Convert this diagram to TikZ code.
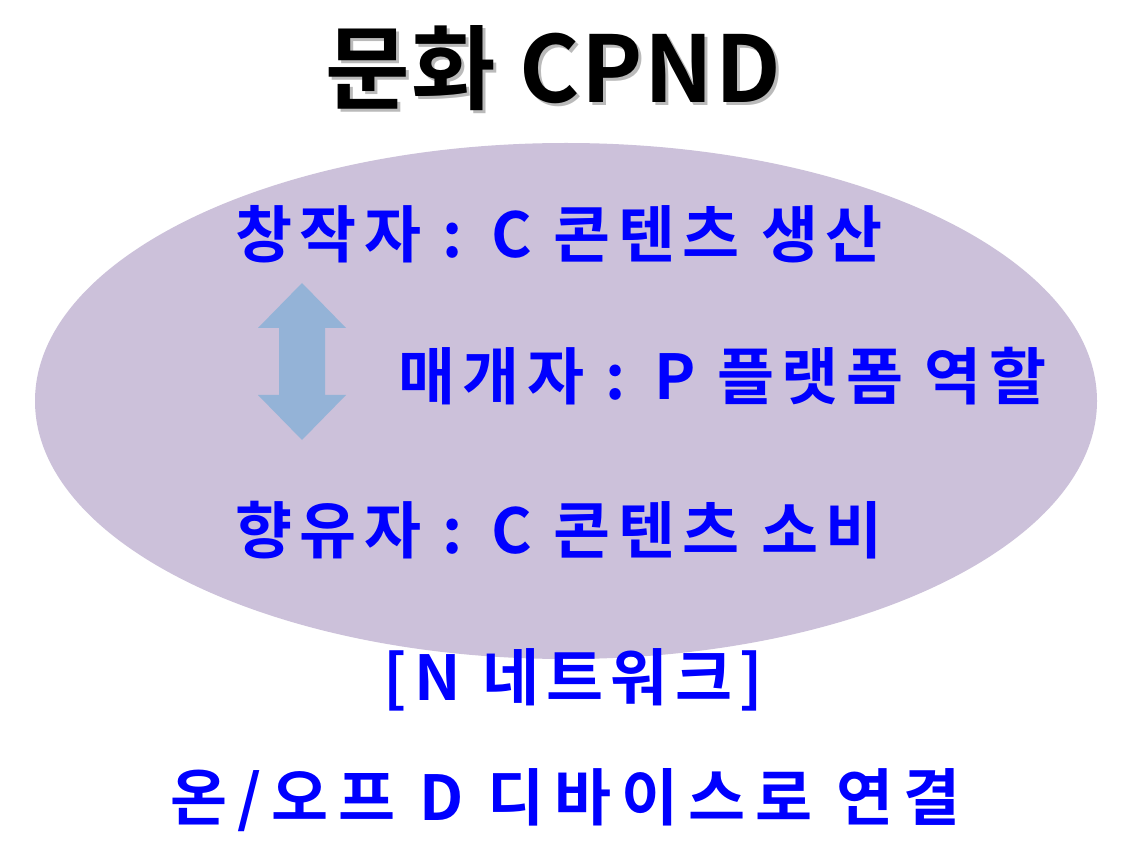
\documentclass[tikz,border=0pt]{standalone}
\usepackage{fontspec}
\setmainfont{Noto Sans CJK KR}[BoldFont={Noto Sans CJK KR Bold}]
\usetikzlibrary{shapes.arrows}
\definecolor{ellfill}{HTML}{CCC1DA}
\definecolor{arrfill}{HTML}{94B3D7}
\definecolor{txtblue}{HTML}{0000FF}
\begin{document}
\begin{tikzpicture}[x=1pt,y=-1pt,
  bluetext/.style={text=txtblue,font=\fontsize{62}{66}\selectfont\bfseries\addfontfeature{LetterSpace=12},inner sep=0pt,anchor=west},
  widetext/.style={bluetext,font=\fontsize{62}{66}\selectfont\bfseries\addfontfeature{LetterSpace=16}},
  titletext/.style={font=\fontsize{92}{100}\selectfont\bfseries\addfontfeature{LetterSpace=2},inner sep=0pt}]
\useasboundingbox[fill=white] (0,0) rectangle (1136,850);
\fill[ellfill] (566,401) ellipse [x radius=531, y radius=258];
% soft shadow of the title
\node[titletext,text=black!45,opacity=0.6] at (556,71) {문화 CPND};
\node[titletext,text=black] (title) at (553,68) {문화 CPND};
% double arrow
\fill[arrfill] (302,283) -- (346,328) -- (325,328) -- (325,395) -- (346,395) -- (302,440) -- (258,395) -- (279,395) -- (279,328) -- (258,328) -- cycle;
\node[bluetext] (l1) at (235,234) {창작자 : C 콘텐츠 생산};
\node[bluetext] (l2) at (398,376) {매개자 : P 플랫폼 역할};
\node[bluetext] (l3) at (235,530) {향유자 : C 콘텐츠 소비};
\node[bluetext] (l4) at (383,680) {[N 네트워크]};
\node[widetext] (l5) at (170,800) {온/오프 D 디바이스로 연결};
\end{tikzpicture}
\end{document}
